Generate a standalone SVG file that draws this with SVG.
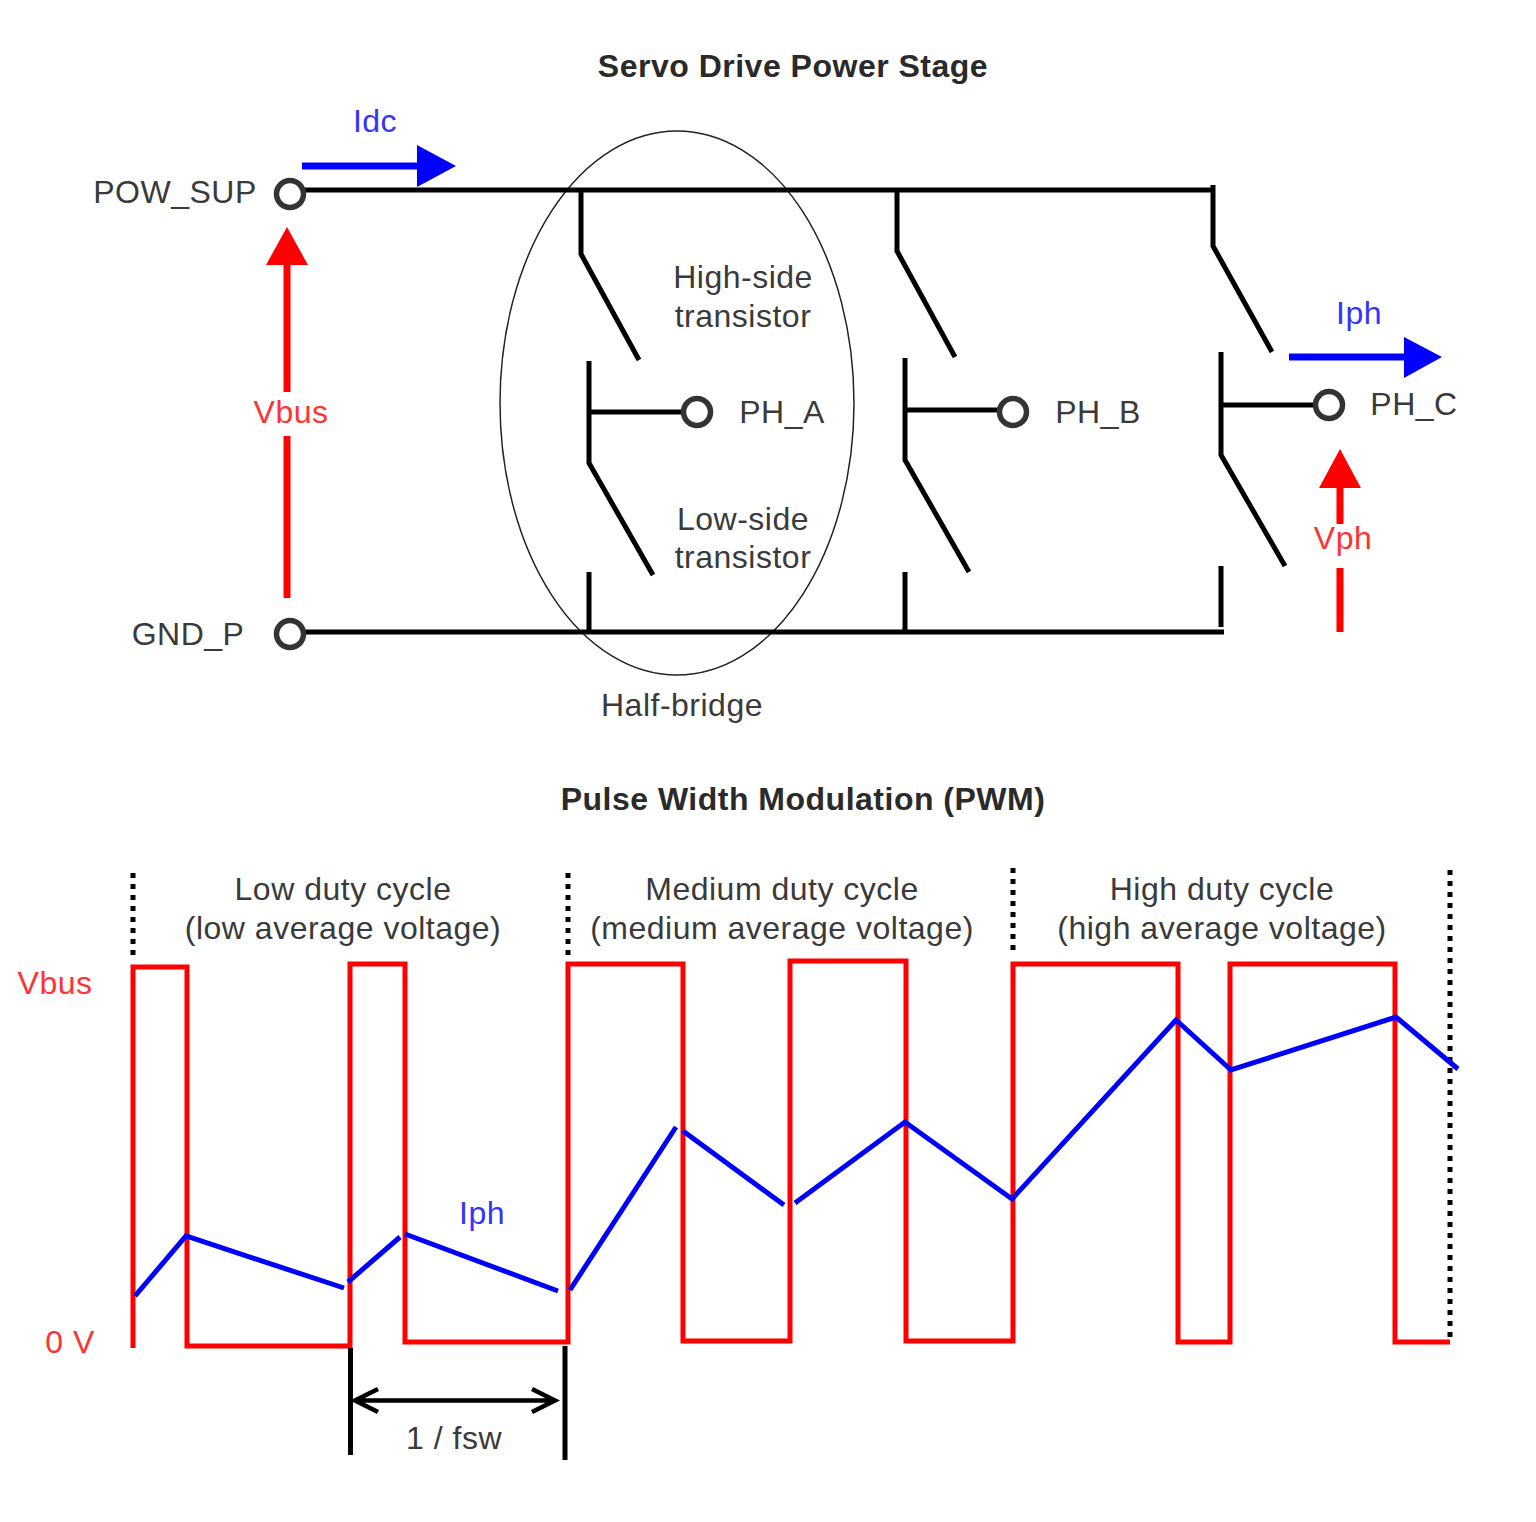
<svg xmlns="http://www.w3.org/2000/svg" width="1536" height="1522" viewBox="0 0 1536 1522">
<defs><style>
text{font-family:"Liberation Sans",Arial,sans-serif;font-size:32px;fill:#3a3a3a;text-anchor:middle;letter-spacing:.5px}
.t{font-weight:bold;fill:#2a2a2a}
.r{fill:#ff3333}.b{fill:#3333ff}
.k{fill:none;stroke:#000;stroke-width:5}
.kd{fill:none;stroke:#000;stroke-width:5;stroke-dasharray:5 6}
.n{fill:#fff;stroke:#333;stroke-width:5.5}
.rl{fill:none;stroke:#ff0000;stroke-width:5}
.bl{fill:none;stroke:#0000ff;stroke-width:5}
.ra{fill:none;stroke:#ff0000;stroke-width:7}
.ba{fill:none;stroke:#0000ff;stroke-width:7}
</style></defs>
<rect width="1536" height="1522" fill="#fff"/>
<g id="connectors">
<ellipse cx="677" cy="403" rx="177" ry="272" fill="none" stroke="#222" stroke-width="1.5"/>
<path class="k" d="M303 190H1215M303 632H1224"/>
<path class="k" d="M581 190V254L639 360M589 361V463L653 575M589 412H684M589 572V632"/>
<path class="k" d="M897 190V251L955 357M905 358V460L969 572M905 410H1000M905 572V632"/>
<path class="k" d="M1213 185V246L1272 352M1221 352V455L1285 566M1221 405H1316M1221 566V627"/>
<path class="ba" d="M302 166H425"/><path d="M417 145L456 166L417 187Z" fill="#0000ff"/>
<path class="ba" d="M1289 357H1412"/><path d="M1404 337L1442 357L1404 378Z" fill="#0000ff"/>
<path class="ra" d="M287 598V436M287 392V258"/><path d="M266 265L287 227L308 265Z" fill="#ff0000"/>
<path class="ra" d="M1340 632V568M1340 524V482"/><path d="M1319 488L1340 449L1361 488Z" fill="#ff0000"/>
<path class="kd" d="M133 873V958M568 873V958M1013 868V950M1450 870V1340"/>
<path class="rl" d="M133 1348V967H187V1346H350V964H405V1342H568V964H683V1341H790V961H906V1341H1013V964H1178V1342H1230V964H1395V1342H1450"/>
<path class="bl" d="M135 1296L186 1236L344 1288M348 1282L400 1237M405 1234L558 1291M570 1290L676 1127M683 1131L784 1205M795 1203L905 1122L1012 1199L1176 1020L1231 1070L1396 1017L1458 1069"/>
<path class="k" d="M350.5 1348V1455M565 1346V1460"/>
<path d="M355 1400.500H555M378 1389L355 1400.500L378 1412M532 1389L555 1400.500L532 1412" fill="none" stroke="#000" stroke-width="4.500"/>
</g>
<g id="POW_SUP"><circle class="n" cx="290" cy="194" r="13.5"/><text x="175" y="203">POW_SUP</text></g>
<g id="GND_P"><circle class="n" cx="290" cy="634" r="13.5"/><text x="188" y="645">GND_P</text></g>
<g id="PH_A"><circle class="n" cx="697" cy="412" r="13.5"/><text x="782" y="423">PH_A</text></g>
<g id="PH_B"><circle class="n" cx="1013" cy="412" r="13.5"/><text x="1098" y="423">PH_B</text></g>
<g id="PH_C"><circle class="n" cx="1329" cy="405" r="13.5"/><text x="1414" y="415">PH_C</text></g>
<g id="labels">
<text class="t" x="793" y="77">Servo Drive Power Stage</text>
<text class="b" x="375" y="132">Idc</text>
<text class="b" x="1359" y="324">Iph</text>
<text class="r" x="291" y="423">Vbus</text>
<text class="r" x="1343" y="549">Vph</text>
<text x="743" y="288">High-side</text><text x="743" y="327">transistor</text>
<text x="743" y="530">Low-side</text><text x="743" y="568">transistor</text>
<text x="682" y="716">Half-bridge</text>
<text class="t" x="803" y="810">Pulse Width Modulation (PWM)</text>
<text x="343" y="900">Low duty cycle</text><text x="343" y="939">(low average voltage)</text>
<text x="782" y="900">Medium duty cycle</text><text x="782" y="939">(medium average voltage)</text>
<text x="1222" y="900">High duty cycle</text><text x="1222" y="939">(high average voltage)</text>
<text class="r" x="55" y="994">Vbus</text>
<text class="r" x="70" y="1353">0 V</text>
<text class="b" x="482" y="1224">Iph</text>
<text x="454" y="1449">1 / fsw</text>
</g>
</svg>
